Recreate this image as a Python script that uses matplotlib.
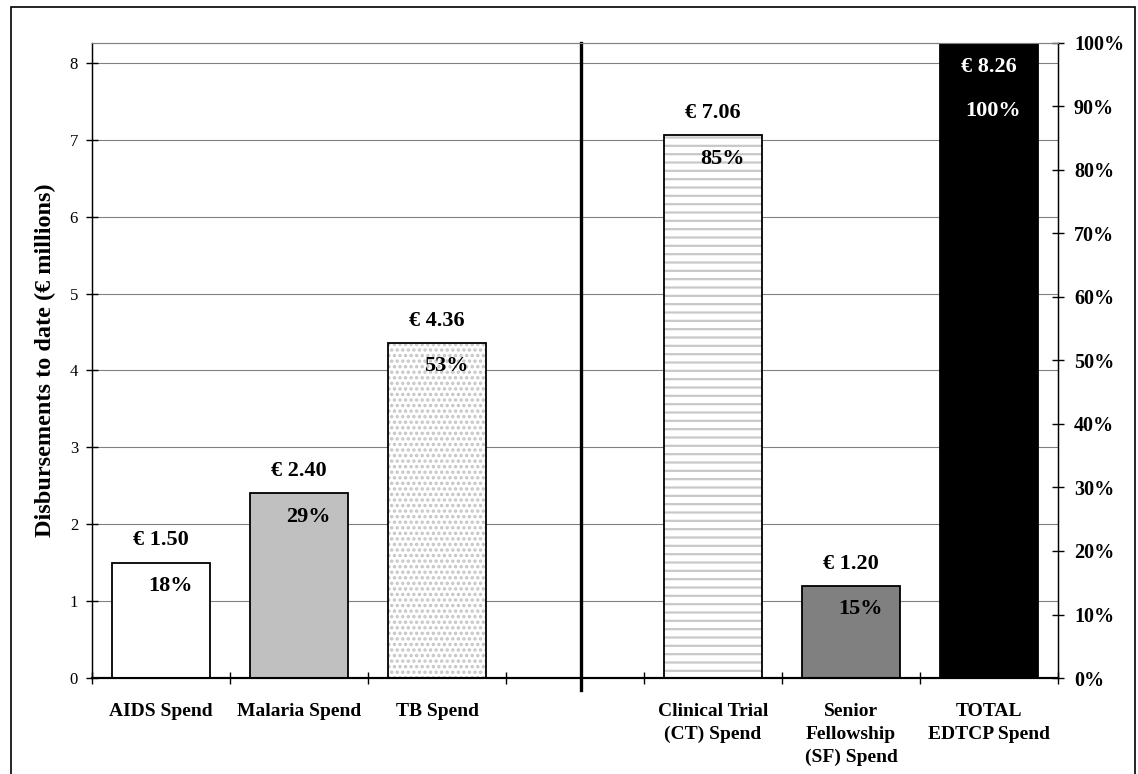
import numpy as np
import matplotlib
matplotlib.use("Agg")
import matplotlib.pyplot as plt
from matplotlib.patches import Rectangle

# data
categories = ['AIDS Spend', 'Malaria Spend', 'TB Spend',
              'Clinical Trial\n(CT) Spend', 'Senior\nFellowship\n(SF) Spend',
              'TOTAL\nEDTCP Spend']
values = [1.50, 2.40, 4.36, 7.06, 1.20, 8.26]
percents = [18, 29, 53, 85, 15, 100]
slots = [0, 1, 2, 4, 5, 6]          # slot 3 is left empty (divider)
face_colors = ['white', '#c0c0c0', 'white', 'white', '#808080', 'black']
hatches = [None, None, '...', '--', None, None]
hatch_colors = [None, None, '#c4c4c4', '#c8c8c8', None, None]

serif = 'Liberation Serif'
plt.rcParams['font.family'] = serif
plt.rcParams['hatch.linewidth'] = 1.6

fig = plt.figure(figsize=(11.38, 7.74), dpi=100)
ax = fig.add_axes([92/1138, 1 - 678/774, (1058 - 92)/1138, (678 - 43)/774])
ax2 = ax.twinx()

ymax = values[-1]
ax.set_xlim(-0.5, 6.5)
ax.set_ylim(0, ymax)
ax2.set_ylim(0, 100)

# gridlines
ax.set_yticks(range(0, 9))
ax.yaxis.grid(True, color='#808080', linewidth=0.8)
ax.set_axisbelow(True)

bw = 0.71
for i in range(len(values)):
    x = slots[i]
    if hatches[i]:
        ax.bar(x, values[i], bw, color='white', edgecolor=hatch_colors[i],
               hatch=hatches[i], linewidth=0, zorder=2)
        ax.bar(x, values[i], bw, fill=False, edgecolor='black', linewidth=1.3, zorder=3)
    else:
        ax.bar(x, values[i], bw, color=face_colors[i], edgecolor='black',
               linewidth=1.3, zorder=3)

    if values[i] >= ymax:
        # label would not fit above the bar, put it inside in white
        ax.annotate(f'€ {values[i]:.2f}', (x, values[i]), xytext=(0, -17),
                    textcoords='offset points', ha='center', va='center',
                    fontsize=16, fontweight='bold', color='white', zorder=5)
        ax.annotate(f'{percents[i]}%', (x, values[i]), xytext=(3, -49),
                    textcoords='offset points', ha='center', va='center',
                    fontsize=16, fontweight='bold', color='white', zorder=5)
    else:
        ax.annotate(f'€ {values[i]:.2f}', (x, values[i]), xytext=(0, 16),
                    textcoords='offset points', ha='center', va='center',
                    fontsize=16, fontweight='bold', color='black', zorder=5)
        ax.annotate(f'{percents[i]}%', (x, values[i]), xytext=(6.5, -17),
                    textcoords='offset points', ha='center', va='center',
                    fontsize=16, fontweight='bold', color='black', zorder=5)

# divider between disease spend and programme spend
ax.plot([3.04, 3.04], [-0.15, ymax], color='black', linewidth=2.4,
        clip_on=False, zorder=4)

# x axis: tick marks at slot boundaries, labels at bar centres
ax.set_xticks(np.arange(-0.5, 7.0, 1.0))
ax.set_xticklabels([])
ax.tick_params(axis='x', which='major', direction='inout', length=9, width=1)
ax.set_xticks(slots, minor=True)
ax.set_xticklabels(categories, minor=True, fontsize=14, fontweight='bold',
                   va='top', linespacing=1.45)
ax.tick_params(axis='x', which='minor', length=0, pad=18)

# left axis
ax.tick_params(axis='y', direction='inout', length=8, width=1, pad=6,
               labelsize=12)
ax.set_ylabel('Disbursements to date (€ millions)', fontsize=17.5,
              fontweight='bold')
ax.yaxis.set_label_coords(-0.037, 0.5)

# right axis (percent of total)
ax2.set_yticks(range(0, 101, 10))
ax2.set_yticklabels([f'{t}%' for t in range(0, 101, 10)])
ax2.tick_params(axis='y', direction='inout', length=9, width=1, pad=7,
                labelsize=14.5)
for lab in ax2.get_yticklabels():
    lab.set_fontweight('bold')

for s in ['left', 'bottom', 'right']:
    ax.spines[s].set_color('black')
    ax2.spines[s].set_color('black')
ax.spines['bottom'].set_linewidth(1.5)
ax2.spines['bottom'].set_linewidth(1.5)
ax.spines['left'].set_linewidth(1.0)
ax2.spines['right'].set_linewidth(1.0)
ax.spines['top'].set_color('#808080')
ax2.spines['top'].set_color('#808080')

# outer frame around the figure
fig.patches.append(Rectangle((11/1138, -0.01), (1135 - 11)/1138, 1 - 7/774 + 0.01,
                             transform=fig.transFigure, fill=False,
                             edgecolor='black', linewidth=1.2))

fig.savefig('out.png', dpi=100)
